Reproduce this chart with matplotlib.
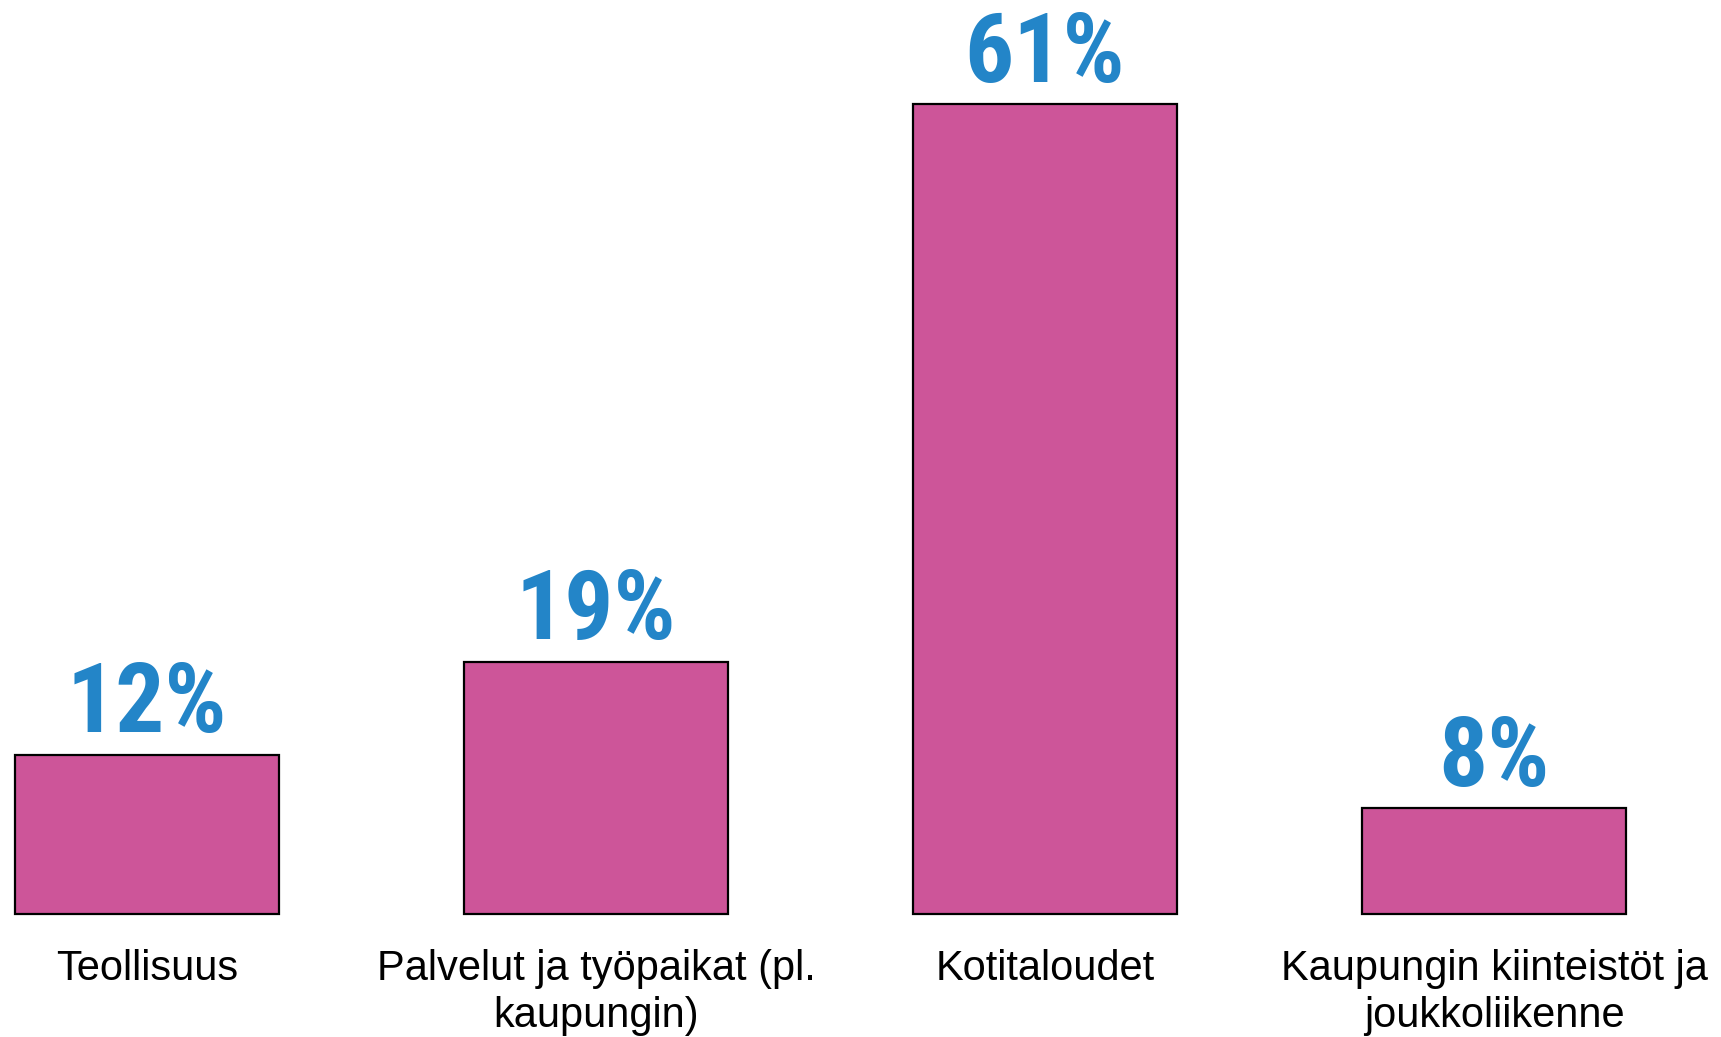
import matplotlib
matplotlib.use("Agg")
import matplotlib.pyplot as plt
from matplotlib import font_manager

# ----------------------------------------------------------
# Data
# ----------------------------------------------------------
categories = [
    "Teollisuus",
    "Palvelut ja työpaikat (pl.\nkaupungin)",
    "Kotitaloudet",
    "Kaupungin kiinteistöt ja\njoukkoliikenne",
]
shares = [12, 19, 61, 8]
value_labels = ["12%", "19%", "61%", "8%"]

bar_color = "#CD5599"
value_color = "#2385C8"

# narrow bold face for the value labels, best one that is installed
installed = {f.name for f in font_manager.fontManager.ttflist}
value_family = "Roboto"
for cand in ["Liberation Sans Narrow", "Roboto Condensed", "Open Sans Condensed", "Roboto"]:
    if cand in installed:
        value_family = cand
        break

# ----------------------------------------------------------
# Figure
# ----------------------------------------------------------
W, H = 1721, 1037
fig = plt.figure(figsize=(W / 100, H / 100), dpi=100)

bottom_px = 914
top_px = 104
ax = fig.add_axes([0, (H - bottom_px) / H, 1, (bottom_px - top_px) / H])

spacing = 449
first_center = 147
ax.set_xlim(-first_center / spacing, (W - first_center) / spacing)
ax.set_ylim(0, max(shares))
ax.axis("off")

x = list(range(len(categories)))
bars = ax.bar(x, shares, width=264 / spacing, color=bar_color,
              edgecolor="black", linewidth=1.6, clip_on=False)

for xi, v, lab in zip(x, shares, value_labels):
    ax.annotate(lab, (xi, v), xytext=(0, 16), textcoords="offset points",
                ha="center", va="baseline", color=value_color,
                family=value_family, fontweight="bold", fontsize=70,
                annotation_clip=False)

for xi, cat in zip(x, categories):
    ax.annotate(cat, (xi, 0), xytext=(0, -25), textcoords="offset points",
                ha="center", va="top", fontsize=30, family="Liberation Sans",
                color="black", linespacing=1.25, annotation_clip=False)

fig.savefig("out.png", dpi=100)
